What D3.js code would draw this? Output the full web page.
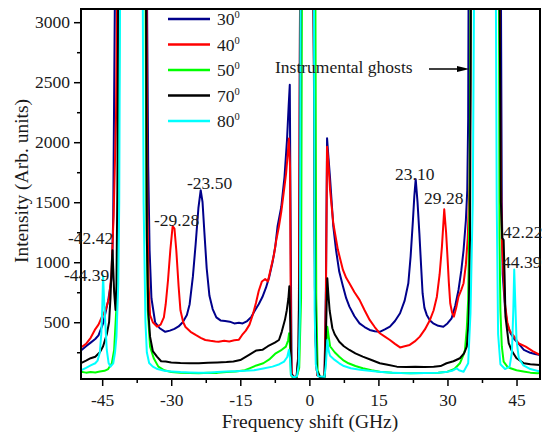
<!DOCTYPE html>
<html>
<head>
<meta charset="utf-8">
<script src="https://cdnjs.cloudflare.com/ajax/libs/d3/7.8.5/d3.min.js"></script>
<style>
body { margin: 0; background: #fff; }
text { font-family: "Liberation Serif", "Times New Roman", serif; fill: #1a1a1a; }
</style>
</head>
<body>
<script>
// [frequency shift (GHz), intensity]
var s30 = [[-49.6,265],[-48.5,300],[-47.5,330],[-46.5,360],[-45.8,390],[-44.8,490],[-43.7,680],[-42.9,880],[-42.6,1380],[-42.4,2400],[-42.2,3400],
  [-35.3,3400],[-35.0,1800],[-34.7,1100],[-34.3,700],[-33.5,500],[-32.5,450],[-31.3,420],[-30.3,430],[-29.3,445],[-28.4,465],[-27.5,500],[-26.6,560],[-26.0,650],[-25.3,880],[-24.7,1150],[-24.1,1450],[-23.6,1600],[-23.2,1500],[-22.8,1250],[-22.3,950],[-21.7,720],[-21.0,610],[-20.2,540],[-19.3,515],[-18.3,510],[-17.3,505],[-16.3,490],[-15.3,495],[-14.5,490],[-13.5,510],[-12.6,545],[-11.8,600],[-11.0,650],[-10.2,710],[-9.4,790],[-8.7,880],[-8.0,1000],[-7.4,1130],[-6.9,1300],[-6.1,1460],[-5.4,1710],[-4.85,2020],[-4.5,2300],[-4.25,2478],[-4.05,1200],[-3.85,70],[-3.3,40],[-2.7,45],[-2.3,300],[-2.0,3400],
  [0.9,3400],[1.3,400],[1.7,60],[2.5,40],[3.3,45],[3.6,800],[3.85,2033],[4.1,1900],[4.5,1700],[5.2,1300],[5.8,1100],[6.5,920],[7.3,800],[8.0,700],[8.7,630],[9.8,550],[10.9,490],[12.0,460],[13.1,436],[14.2,425],[15.3,420],[16.4,440],[17.5,463],[18.6,510],[19.7,575],[20.7,680],[21.5,825],[22.0,1050],[22.5,1350],[22.8,1550],[23.1,1692],[23.5,1500],[23.9,1240],[24.3,950],[24.6,740],[25.0,620],[25.5,561],[26.2,515],[26.9,491],[28.0,470],[29.1,463],[30.0,490],[30.9,533],[31.7,640],[32.4,769],[33.0,930],[33.5,1102],[34.0,1350],[34.3,1600],[34.5,2200],[34.6,3400],
  [41.6,3400],[41.8,1500],[42.0,900],[42.5,620],[43.0,480],[43.7,408],[44.5,360],[45.5,320],[46.6,270],[48.0,245],[49.0,235],[50.1,227]];

var s40 = [[-49.6,290],[-48.5,320],[-47.5,370],[-46.6,436],[-45.8,480],[-45.0,550],[-44.2,610],[-43.5,700],[-43.0,900],[-42.5,1400],[-42.0,2200],[-41.7,3400],
  [-35.4,3400],[-35.2,1500],[-34.9,800],[-34.6,560],[-34.0,500],[-33.1,463],[-32.3,480],[-31.6,540],[-31.2,650],[-30.7,850],[-30.2,1100],[-29.7,1300],[-29.3,1280],[-28.9,1100],[-28.4,800],[-28.0,600],[-27.4,500],[-26.9,460],[-25.8,420],[-24.7,394],[-23.6,370],[-22.6,352],[-21.5,345],[-20.4,340],[-19.7,338],[-18.5,345],[-17.4,340],[-16.3,350],[-15.3,355],[-14.6,394],[-13.8,430],[-13.0,480],[-12.3,560],[-11.6,660],[-11.0,760],[-10.3,840],[-9.6,860],[-9.0,840],[-8.3,960],[-7.7,1060],[-7.2,1180],[-6.6,1300],[-6.1,1420],[-5.5,1600],[-5.05,1740],[-4.7,1900],[-4.45,2030],[-4.2,1800],[-4.0,300],[-3.8,60],[-3.3,45],[-2.7,45],[-2.3,300],[-2.0,3400],
  [0.9,3400],[1.3,400],[1.7,60],[2.5,40],[3.3,50],[3.6,700],[3.85,1963],[4.1,1850],[4.5,1603],[5.2,1325],[6.2,1103],[7.3,936],[8.0,870],[8.7,825],[9.8,750],[10.9,686],[12.0,600],[13.1,519],[14.2,460],[15.3,408],[16.4,380],[17.5,352],[18.6,320],[19.7,290],[20.7,300],[21.8,311],[22.9,340],[24.0,380],[25.1,440],[26.2,519],[27.0,600],[27.7,713],[28.3,900],[28.8,1130],[29.3,1441],[29.7,1250],[30.0,1047],[30.3,830],[30.6,658],[31.0,580],[31.4,547],[31.9,620],[32.4,713],[33.0,770],[33.5,825],[34.0,980],[34.4,1200],[34.8,1661],[35.0,2500],[35.1,3400],
  [41.3,3400],[41.5,2000],[41.8,1200],[42.1,950],[42.5,650],[43.0,500],[43.5,430],[44.5,380],[45.4,325],[47.0,297],[48.5,260],[50.1,227]];

var s50 = [[-49.6,88],[-48.5,80],[-47.5,85],[-46.5,82],[-45.5,90],[-44.5,95],[-43.7,110],[-42.9,158],[-42.4,269],[-41.9,630],[-41.5,1300],[-41.2,3400],
  [-35.6,3400],[-35.4,1500],[-35.1,600],[-34.6,297],[-33.8,200],[-32.8,130],[-31.5,100],[-30,85],[-28,80],[-26,78],[-24,75],[-22,80],[-20,78],[-18,85],[-16,90],[-14,100],[-13,116],[-11.5,140],[-10,158],[-8.7,190],[-7.3,241],[-6,270],[-5.1,297],[-4.6,350],[-4.4,408],[-4.2,300],[-4.0,60],[-3.4,30],[-2.8,35],[-2.2,120],[-1.8,700],[-1.6,3400],
  [1.3,3400],[1.5,700],[1.8,100],[2.4,35],[3.3,40],[3.6,200],[3.9,463],[4.2,380],[4.5,300],[5.5,250],[6.5,213],[7.5,180],[8.5,158],[10,135],[11.6,116],[13.5,100],[15.3,88],[18,80],[20,76],[22,74],[25,76],[28,80],[30,88],[31.5,110],[32.7,158],[33.5,230],[33.8,269],[34.2,450],[34.5,686],[34.8,1500],[35.05,3400],
  [41.2,3400],[41.3,1200],[41.5,600],[41.8,300],[42.2,172],[43.0,130],[43.7,116],[45,100],[46.5,90],[48,80],[49.5,74],[50.1,76]];

var s70 = [[-49.6,160],[-48.5,180],[-47.5,200],[-46.5,213],[-45.5,250],[-44.8,300],[-44.0,400],[-43.5,500],[-43.2,700],[-42.9,1000],[-42.75,1100],[-42.6,950],[-42.4,750],[-42.1,602],[-41.9,800],[-41.7,1600],[-41.5,3400],
  [-35.5,3400],[-35.3,1200],[-35.0,600],[-34.6,380],[-34.0,260],[-33.1,213],[-32.2,175],[-31.2,172],[-30,165],[-28,160],[-26,158],[-24,158],[-22,162],[-20,165],[-18,168],[-16.5,172],[-15,185],[-13,230],[-11.5,265],[-10.2,270],[-9,300],[-7.5,330],[-6.6,352],[-6.0,420],[-5.3,520],[-4.9,600],[-4.55,700],[-4.35,800],[-4.15,500],[-3.95,70],[-3.4,40],[-2.8,45],[-2.4,200],[-2.1,1000],[-1.9,3400],
  [0.9,3400],[1.2,800],[1.6,100],[2.4,40],[3.3,45],[3.6,400],[3.9,867],[4.1,750],[4.4,600],[5.0,450],[5.5,400],[6.5,338],[7.5,300],[8.7,269],[10,240],[11.6,213],[13.5,185],[15.3,158],[17,145],[19,130],[21,128],[23,130],[25,128],[27,130],[28.5,135],[29.8,158],[31.3,175],[32.7,200],[33.6,240],[34.2,297],[34.6,500],[34.9,1200],[35.1,3400],
  [41.3,3400],[41.6,1500],[41.9,1200],[42.2,1186],[42.4,900],[42.6,547],[43.0,420],[43.3,325],[44.0,260],[45.0,200],[46.6,158],[48.0,150],[50.1,144]];

var s80 = [[-49.6,100],[-48.5,120],[-47.5,140],[-46.5,158],[-46.0,180],[-45.5,250],[-45.2,400],[-45.0,600],[-44.8,890],[-44.6,700],[-44.4,547],[-44.0,269],[-43.6,160],[-43.2,130],[-42.6,158],[-42.2,250],[-41.9,380],[-41.5,825],[-41.3,1500],[-41.1,3400],
  [-36.2,3400],[-36.0,1500],[-35.6,500],[-35.3,250],[-34.8,160],[-34.0,130],[-33,110],[-31.5,95],[-30,90],[-28,85],[-26,82],[-24,80],[-22,80],[-20,85],[-18,90],[-16,92],[-14,95],[-12,100],[-10,115],[-8,130],[-6.5,150],[-5.5,172],[-4.8,210],[-4.45,269],[-4.2,200],[-4.0,60],[-3.4,40],[-2.7,50],[-2.3,150],[-2.05,600],[-1.9,3400],
  [1.0,3400],[1.15,600],[1.4,150],[1.9,50],[3.3,45],[3.6,150],[3.9,352],[4.2,260],[4.5,220],[5.5,186],[6.5,158],[7.5,135],[9,116],[11,105],[13,95],[15,88],[18,80],[20,76],[22,74],[25,76],[28,80],[30,88],[31.0,95],[31.5,105],[32.0,116],[32.5,100],[33.5,88],[34.5,158],[35.0,575],[35.5,1500],[35.8,3400],
  [40.5,3400],[40.7,1500],[41.0,400],[41.5,150],[42.5,110],[43.5,130],[44.0,250],[44.3,600],[44.5,940],[44.7,700],[45.0,350],[45.5,200],[46.5,140],[48,110],[50.1,90]];

var series = [s30, s40, s50, s70, s80];
var angles = ["30", "40", "50", "70", "80"];
var colors = ["#00008b", "#ff0000", "#00ff00", "#000000", "#00ffff"];

var xTicks = [-45, -30, -15, 0, 15, 30, 45];
var xTickLabels = ["-45", "-30", "-15", "0", "15", "30", "45"];
var xMinor = [-37.5, -22.5, -7.5, 7.5, 22.5, 37.5];
var yTicks = [500, 1000, 1500, 2000, 2500, 3000];
var yMinor = [250, 750, 1250, 1750, 2250, 2750];

var peakNotes = [
  {t: "-23.50", x: 187, y: 189},
  {t: "-29.28", x: 154, y: 226},
  {t: "-42.42", x: 68, y: 244},
  {t: "-44.39", x: 64, y: 281},
  {t: "23.10", x: 395, y: 180},
  {t: "29.28", x: 424, y: 204},
  {t: "42.22", x: 503, y: 238},
  {t: "44.39", x: 502, y: 268}
];

var margin = {top: 9, right: 2, bottom: 55, left: 81}
  , width = 542 - margin.left - margin.right
  , height = 434 - margin.top - margin.bottom;

var xScale = d3.scaleLinear().domain([-49.6, 50.1]).range([0, width]);
var yScale = d3.scaleLinear().domain([27, 3110]).range([height, 0]);

var svg = d3.select("body").append("svg")
    .attr("width", 542)
    .attr("height", 434);

var g = svg.append("g")
    .attr("transform", "translate(" + margin.left + "," + margin.top + ")");

g.append("clipPath").attr("id", "plot")
  .append("rect").attr("width", width).attr("height", height);

var line = d3.line()
    .x(function(d) { return xScale(d[0]); })
    .y(function(d) { return yScale(d[1]); });

g.append("g").attr("clip-path", "url(#plot)")
  .selectAll("path").data(series).enter()
  .append("path")
    .attr("fill", "none")
    .attr("stroke", function(d, i) { return colors[i]; })
    .attr("stroke-width", 2)
    .attr("stroke-linejoin", "round")
    .attr("d", line);

// axes
g.append("g")
    .attr("transform", "translate(0," + height + ")")
    .call(d3.axisBottom(xScale).tickValues(xTicks).tickSize(7).tickPadding(8)
      .tickFormat(function(d, i) { return xTickLabels[i]; }));
g.append("g")
    .attr("transform", "translate(0," + height + ")")
    .call(d3.axisBottom(xScale).tickValues(xMinor).tickSize(4).tickFormat(""));

g.append("g")
    .call(d3.axisLeft(yScale).tickValues(yTicks).tickSize(7).tickPadding(4)
      .tickFormat(function(d) { return String(d); }));
g.append("g")
    .call(d3.axisLeft(yScale).tickValues(yMinor).tickSize(4).tickFormat(""));

g.selectAll(".domain").remove();
g.selectAll(".tick line").attr("stroke", "#000").attr("stroke-width", 1.5);
g.selectAll(".tick text")
    .attr("font-family", "Liberation Serif, serif")
    .attr("font-size", 17.5)
    .attr("fill", "#1a1a1a");

g.append("rect")
    .attr("width", width)
    .attr("height", height)
    .attr("fill", "none")
    .attr("stroke", "#000")
    .attr("stroke-width", 2);

svg.append("text")
    .attr("x", 310)
    .attr("y", 428)
    .attr("text-anchor", "middle")
    .attr("font-size", 19.5)
    .text("Frequency shift (GHz)");

svg.append("text")
    .attr("transform", "translate(28,181) rotate(-90)")
    .attr("text-anchor", "middle")
    .attr("font-size", 19.5)
    .text("Intensity (Arb. units)");

// legend
var legend = svg.append("g").selectAll("g").data(angles).enter()
  .append("g")
    .attr("transform", function(d, i) { return "translate(168," + (19 + i * 25.5) + ")"; });

legend.append("line")
    .attr("x1", 0).attr("x2", 42)
    .attr("stroke", function(d, i) { return colors[i]; })
    .attr("stroke-width", 2.5);

var lt = legend.append("text")
    .attr("x", 49)
    .attr("y", 6)
    .attr("font-size", 17.5);
lt.append("tspan").text(function(d) { return d; });
lt.append("tspan").attr("dy", -7).attr("font-size", 10.5).text("0");

// peak annotations
svg.append("g").selectAll("text").data(peakNotes).enter()
  .append("text")
    .attr("x", function(d) { return d.x; })
    .attr("y", function(d) { return d.y; })
    .attr("font-size", 17.5)
    .text(function(d) { return d.t; });

svg.append("text")
    .attr("x", 275)
    .attr("y", 73)
    .attr("font-size", 17.5)
    .text("Instrumental ghosts");

svg.append("line")
    .attr("x1", 429).attr("x2", 460)
    .attr("y1", 69).attr("y2", 69)
    .attr("stroke", "#000")
    .attr("stroke-width", 1.5);
svg.append("path")
    .attr("d", "M457,66L469.5,69L457,72Z")
    .attr("fill", "#000");
</script>
</body>
</html>
